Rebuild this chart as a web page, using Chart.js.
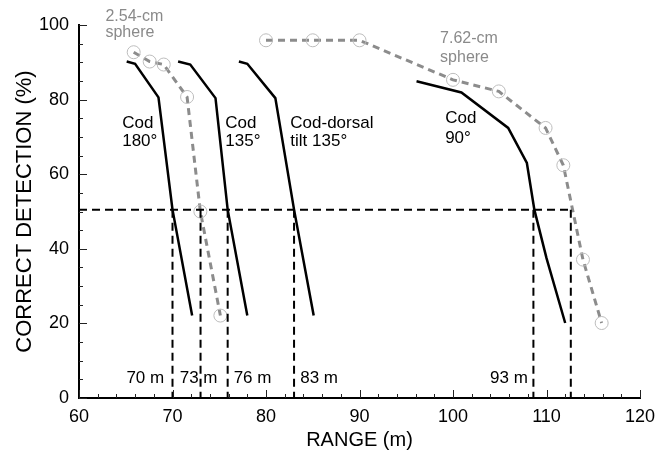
<!DOCTYPE html>
<html>
<head>
<meta charset="utf-8">
<script src="https://cdn.jsdelivr.net/npm/chart.js@4"></script>
<style>
  html, body { margin: 0; padding: 0; background: #fff; }
  canvas { display: block; }
</style>
</head>
<body>
<canvas id="detectionChart" width="667" height="458"></canvas>
<script>
// range (m) vs correct detection (%)
const cod180Range = [65.1, 66.0, 68.5, 70.0, 72.1];
const cod180Detect = [90.2, 89.6, 80.6, 50.5, 22.1];

const cod135Range = [70.6, 71.9, 74.6, 75.9, 78.0];
const cod135Detect = [90.2, 89.4, 80.4, 50.5, 22.1];

const codDorsalRange = [77.1, 78.0, 81.0, 83.0, 85.1];
const codDorsalDetect = [90.2, 89.6, 80.4, 50.5, 22.1];

const cod90Range = [96.1, 100.9, 105.9, 107.9, 108.7, 110.0, 112.0];
const cod90Detect = [84.9, 81.9, 72.4, 63.0, 50.5, 37.5, 20.1];

const sphere254Range = [65.85, 67.56, 69.06, 71.56, 72.98, 75.12];
const sphere254Detect = [92.7, 90.2, 89.4, 80.7, 50.0, 22.1];

const sphere762Range = [80.0, 85.0, 90.0, 100.0, 104.9, 109.9, 111.8, 113.9, 115.9];
const sphere762Detect = [95.9, 95.9, 95.9, 85.3, 82.2, 72.4, 62.4, 37.1, 20.1];

const detectThreshold = 50.5;
const thresholdRanges = [70.0, 73.0, 75.9, 83.0, 108.6, 112.6];
const rangeLabels = ['70 m', '73 m', '76 m', '83 m', '93 m'];

const FONT = "'Liberation Sans', Arial, Helvetica, sans-serif";

const toPoints = (xs, ys) => xs.map((v, i) => ({ x: v, y: ys[i] }));

const codLine = (xs, ys) => ({
  data: toPoints(xs, ys),
  showLine: true,
  borderColor: '#000',
  borderWidth: 2.5,
  pointRadius: 0,
  fill: false
});

const sphereLine = (xs, ys) => ({
  data: toPoints(xs, ys),
  showLine: true,
  borderColor: '#8c8c8c',
  borderWidth: 3,
  borderDash: [7, 5],
  pointRadius: 6.5,
  pointBorderWidth: 1,
  pointBorderColor: '#bdbdbd',
  pointBackgroundColor: 'rgba(0,0,0,0)',
  fill: false
});

const refLine = (pts) => ({
  data: pts,
  showLine: true,
  borderColor: '#000',
  borderWidth: 2,
  borderDash: [8, 5],
  pointRadius: 0,
  fill: false
});

const datasets = [
  refLine([{ x: 60, y: detectThreshold }, { x: thresholdRanges[thresholdRanges.length - 1], y: detectThreshold }]),
  ...thresholdRanges.map(r => refLine([{ x: r, y: detectThreshold }, { x: r, y: 0 }])),
  codLine(cod180Range, cod180Detect),
  codLine(cod135Range, cod135Detect),
  codLine(codDorsalRange, codDorsalDetect),
  codLine(cod90Range, cod90Detect),
  sphereLine(sphere254Range, sphere254Detect),
  sphereLine(sphere762Range, sphere762Detect)
];

// text placed in data coordinates
const notes = [
  { t: '2.54-cm', x: 62.83, y: 101.0, c: '#8a8a8a', s: 16 },
  { t: 'sphere', x: 62.83, y: 96.8, c: '#8a8a8a', s: 16 },
  { t: '7.62-cm', x: 98.62, y: 95.2, c: '#8a8a8a', s: 16 },
  { t: 'sphere', x: 98.62, y: 90.1, c: '#8a8a8a', s: 16 },
  { t: 'Cod', x: 64.62, y: 72.4, c: '#000', s: 17 },
  { t: '180\u00b0', x: 64.62, y: 67.5, c: '#000', s: 17 },
  { t: 'Cod', x: 75.65, y: 72.4, c: '#000', s: 17 },
  { t: '135\u00b0', x: 75.65, y: 67.5, c: '#000', s: 17 },
  { t: 'Cod-dorsal', x: 82.6, y: 72.4, c: '#000', s: 17 },
  { t: 'tilt 135\u00b0', x: 82.6, y: 67.5, c: '#000', s: 17 },
  { t: 'Cod', x: 99.16, y: 73.7, c: '#000', s: 17 },
  { t: '90\u00b0', x: 99.16, y: 68.4, c: '#000', s: 17 }
];
const rangeLabelX = [65.07, 70.77, 76.54, 83.66, 103.96];

const notesPlugin = {
  id: 'notes',
  afterDatasetsDraw(chart) {
    const { ctx, scales: { x, y } } = chart;
    ctx.save();
    ctx.textAlign = 'left';
    ctx.textBaseline = 'alphabetic';
    notes.forEach(n => {
      ctx.fillStyle = n.c;
      ctx.font = n.s + 'px ' + FONT;
      ctx.fillText(n.t, x.getPixelForValue(n.x), y.getPixelForValue(n.y));
    });
    ctx.fillStyle = '#000';
    ctx.font = '17px ' + FONT;
    rangeLabels.forEach((t, i) => {
      ctx.fillText(t, x.getPixelForValue(rangeLabelX[i]), y.getPixelForValue(4.1));
    });
    ctx.restore();
  }
};

// inward major/minor tick marks
const frameTicks = {
  id: 'frameTicks',
  afterDraw(chart) {
    const { ctx, scales: { x, y } } = chart;
    ctx.save();
    ctx.strokeStyle = '#222';
    ctx.lineWidth = 1;
    ctx.beginPath();
    for (let v = x.min; v <= x.max; v += 2) {
      const px = Math.round(x.getPixelForValue(v)) + 0.5;
      const len = v % 10 === 0 ? 8 : 4;
      ctx.moveTo(px, y.bottom);
      ctx.lineTo(px, y.bottom - len);
    }
    for (let v = y.min; v <= y.max; v += 5) {
      const py = Math.round(y.getPixelForValue(v)) + 0.5;
      const len = v % 20 === 0 ? 8 : 4;
      ctx.moveTo(x.left, py);
      ctx.lineTo(x.left + len, py);
    }
    ctx.stroke();
    ctx.restore();
  }
};

new Chart(document.getElementById('detectionChart'), {
  type: 'scatter',
  data: { datasets },
  plugins: [notesPlugin, frameTicks],
  options: {
    responsive: false,
    animation: false,
    devicePixelRatio: 1,
    layout: { padding: { top: 25, right: 27, left: 0, bottom: 0 } },
    datasets: { scatter: { clip: false } },
    plugins: {
      legend: { display: false },
      tooltip: { enabled: false }
    },
    scales: {
      x: {
        type: 'linear',
        min: 60,
        max: 120,
        afterFit(scale) { scale.height = 60; },
        grid: { display: false, drawTicks: false },
        border: { color: '#000', width: 2 },
        ticks: { stepSize: 10, padding: 8, color: '#000', font: { family: FONT, size: 18 } },
        title: {
          display: true,
          text: 'RANGE (m)',
          color: '#000',
          font: { family: FONT, size: 20 },
          padding: { top: 0, bottom: 6 }
        }
      },
      y: {
        type: 'linear',
        min: 0,
        max: 100,
        afterFit(scale) { scale.width = 79; },
        grid: { display: false, drawTicks: false },
        border: { color: '#000', width: 2 },
        ticks: { stepSize: 20, padding: 10, color: '#000', font: { family: FONT, size: 18 } },
        title: {
          display: true,
          text: 'CORRECT DETECTION (%)',
          color: '#000',
          font: { family: FONT, size: 22 },
          padding: { top: 12, bottom: 0 }
        }
      }
    }
  }
});
</script>
</body>
</html>
